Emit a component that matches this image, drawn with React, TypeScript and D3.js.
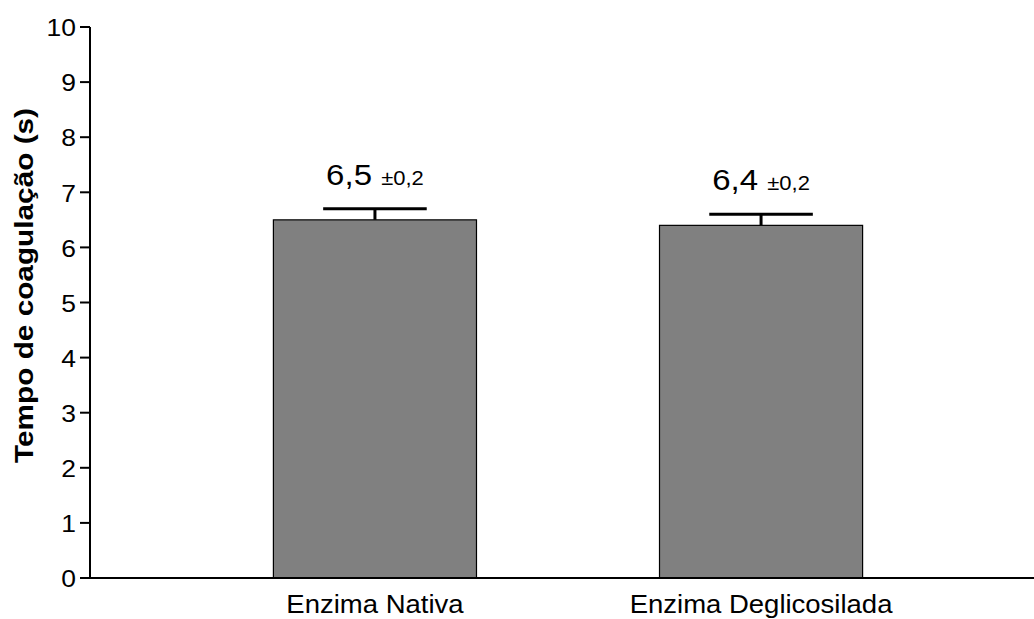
import React from "react";
import * as d3 from "d3";

const categories = ["Enzima Nativa", "Enzima Deglicosilada"];
const means = [6.5, 6.4];
const errors = [0.2, 0.2];
const yTicks = [0, 1, 2, 3, 4, 5, 6, 7, 8, 9, 10];
const yLabel = "Tempo de coagulação (s)";

const W = 1034;
const H = 619;

const locale = d3.formatLocale({ decimal: ",", thousands: ".", grouping: [3], currency: ["", ""] });
const fmt = locale.format(".1f");

export default function App() {
  const y = d3.scaleLinear().domain([0, 10]).range([578, 27]);
  const x = d3
    .scaleBand<string>()
    .domain(categories)
    .range([90, 1046])
    .paddingInner(0.474)
    .paddingOuter(0.475);
  const bw = x.bandwidth();
  const axisX = 90;
  const font = "Liberation Sans, Arial, Helvetica, sans-serif";

  return (
    <svg
      width={W}
      height={H}
      style={{ position: "absolute", left: 0, top: 0, background: "#fff" }}
      fontFamily={font}
    >
      <rect x={0} y={0} width={W} height={H} fill="#fff" />
      {categories.map((c, i) => {
        const cx = (x(c) as number) + bw / 2;
        const capW = bw * 0.51;
        return (
          <g key={c}>
            <line
              x1={cx}
              x2={cx}
              y1={y(means[i])}
              y2={y(means[i] + errors[i])}
              stroke="#000"
              strokeWidth={3}
            />
            <line
              x1={cx - capW / 2}
              x2={cx + capW / 2}
              y1={y(means[i] + errors[i])}
              y2={y(means[i] + errors[i])}
              stroke="#000"
              strokeWidth={3}
            />
            <rect
              x={x(c) as number}
              y={y(means[i])}
              width={bw}
              height={y(0) - y(means[i])}
              fill="#808080"
              stroke="#000"
              strokeWidth={1.2}
            />
            <g transform={`translate(${cx},${y(means[i] + errors[i]) - 24}) scale(1.1,1)`}>
              <text textAnchor="middle" fill="#000">
                <tspan fontSize={30}>{fmt(means[i])} </tspan>
                <tspan fontSize={20}>{"±" + fmt(errors[i])}</tspan>
              </text>
            </g>
            <g transform={`translate(${cx},613) scale(1.1,1)`}>
              <text textAnchor="middle" fontSize={25} fill="#000">
                {c}
              </text>
            </g>
          </g>
        );
      })}
      <line x1={axisX} x2={axisX} y1={y(10)} y2={y(0)} stroke="#000" strokeWidth={2} />
      {yTicks.map((t) => (
        <g key={t}>
          <line x1={axisX - 10} x2={axisX} y1={y(t)} y2={y(t)} stroke="#000" strokeWidth={2} />
          <g transform={`translate(76,${y(t)}) scale(1.15,1)`}>
            <text textAnchor="end" dy="0.4em" fontSize={23} fill="#000">
              {t}
            </text>
          </g>
        </g>
      ))}
      <line x1={axisX} x2={W} y1={y(0)} y2={y(0)} stroke="#000" strokeWidth={2} />
      <text
        transform={`translate(33,${(108 + 463) / 2}) rotate(-90)`}
        textAnchor="middle"
        fontSize={26}
        fontWeight="bold"
        fill="#000"
        textLength={355}
        lengthAdjust="spacingAndGlyphs"
      >
        {yLabel}
      </text>
    </svg>
  );
}
